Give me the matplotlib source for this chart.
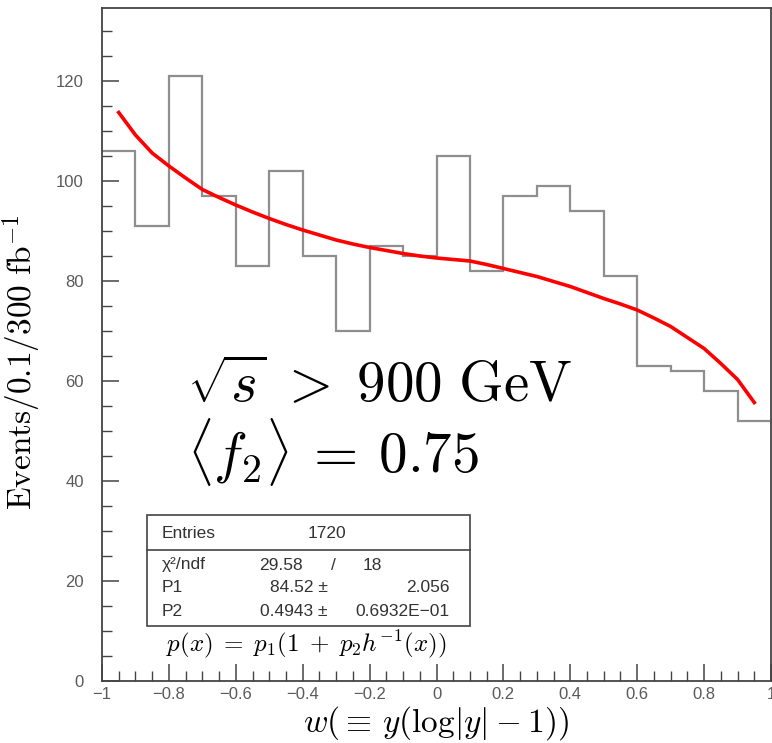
import numpy as np
import matplotlib
matplotlib.use("Agg")
import matplotlib.pyplot as plt
from matplotlib.patches import Rectangle
from matplotlib.lines import Line2D
from matplotlib.ticker import MultipleLocator, FuncFormatter

plt.rcParams['mathtext.fontset'] = 'cm'

# histogram: 20 bins of width 0.1 on [-1, 1]
bin_edges = [-1.0, -0.9, -0.8, -0.7, -0.6, -0.5, -0.4, -0.3, -0.2, -0.1, 0.0,
             0.1, 0.2, 0.3, 0.4, 0.5, 0.6, 0.7, 0.8, 0.9, 1.0]
counts = [106, 91, 121, 97, 83, 102, 85, 70, 87, 85,
          105, 82, 97, 99, 94, 81, 63, 62, 58, 52]

# fitted curve
fit_x = [-0.95, -0.9, -0.85, -0.8, -0.75, -0.7, -0.65, -0.6, -0.55, -0.5,
         -0.45, -0.4, -0.35, -0.3, -0.25, -0.2, -0.15, -0.1, -0.05, 0.0,
         0.05, 0.1, 0.15, 0.2, 0.25, 0.3, 0.35, 0.4, 0.45, 0.5,
         0.55, 0.6, 0.65, 0.7, 0.75, 0.8, 0.85, 0.9, 0.95]
fit_y = [113.7, 109.2, 105.6, 103.0, 100.6, 98.3, 96.7, 95.2, 93.8, 92.5,
         91.3, 90.2, 89.2, 88.2, 87.4, 86.7, 86.1, 85.5, 85.0, 84.6,
         84.3, 84.0, 83.3, 82.5, 81.7, 80.9, 79.9, 78.9, 77.7, 76.5,
         75.4, 74.2, 72.6, 70.9, 68.7, 66.5, 63.5, 60.3, 55.7]

W, H = 772, 743


def fx(px):
    return px / W


def fy(py):
    return 1 - py / H


fig = plt.figure(figsize=(W / 100, H / 100), dpi=100)
ax = fig.add_axes([fx(102), fy(681), (771 - 102) / W, (681 - 8) / H])

ax.stairs(counts, bin_edges, baseline=None, color='#8e8e8e', lw=1.6)
ax.plot(fit_x, fit_y, color='#ff0000', lw=2.6)

ax.set_xlim(-1, 1)
ax.set_ylim(0, 134.6)

ax.xaxis.set_major_locator(MultipleLocator(0.2))
ax.xaxis.set_minor_locator(MultipleLocator(0.05))
ax.yaxis.set_major_locator(MultipleLocator(20))
ax.yaxis.set_minor_locator(MultipleLocator(5))


def fmt(v, _):
    return f"{round(v, 1) + 0:g}".replace('-', '\u2212')


ax.xaxis.set_major_formatter(FuncFormatter(fmt))

for s in ax.spines.values():
    s.set_color('#444444')
    s.set_linewidth(1.3)

ax.tick_params(which='both', direction='in', top=False, right=False,
               color='#444444', labelcolor='#5a5a5a', labelsize=12,
               labelfontfamily='Liberation Sans')
ax.tick_params(which='major', length=12, width=1.1)
ax.tick_params(which='minor', length=7, width=1.0)
ax.tick_params(axis='y', pad=13)
ax.tick_params(axis='x', pad=4)

ax.set_ylabel(r'$\mathrm{Events}/0.1/300\ \mathrm{fb}^{-1}$', fontsize=24)
ax.yaxis.set_label_coords(-0.088, 0.474)
ax.set_xlabel(r'$w(\equiv\, y(\log|y|\:-\:1))$', fontsize=24, labelpad=2)

# big annotation
fig.text(fx(187), fy(402), r'$\sqrt{s}\;>\;900\ \mathrm{GeV}$', fontsize=41,
         ha='left', va='baseline')
fig.text(fx(187), fy(473), r'$\langle f_2\rangle\:=\:0.75$', fontsize=41,
         ha='left', va='baseline')

# stats box
box = Rectangle((fx(147), fy(626)), (470 - 147) / W, (626 - 515) / H,
                transform=fig.transFigure, facecolor='white',
                edgecolor='#444444', lw=1.2, zorder=5)
fig.patches.append(box)
fig.lines.append(Line2D([fx(147), fx(470)], [fy(550), fy(550)],
                        transform=fig.transFigure, color='#444444', lw=1.2,
                        zorder=6))

st = dict(fontsize=12.5, family='Liberation Sans', color='#333333',
          va='center', zorder=7)
fig.text(fx(162), fy(534), 'Entries', ha='left', **st)
fig.text(fx(327), fy(534), '1720', ha='center', **st)
fig.text(fx(162), fy(565), '\u03c7\u00b2/ndf', ha='left', **st)
fig.text(fx(303), fy(565), '29.58', ha='right', **st)
fig.text(fx(333), fy(565), '/', ha='center', **st)
fig.text(fx(363), fy(565), '18', ha='left', **st)
fig.text(fx(162), fy(588), 'P1', ha='left', **st)
fig.text(fx(328), fy(588), '84.52 \u00b1', ha='right', **st)
fig.text(fx(450), fy(588), '2.056', ha='right', **st)
fig.text(fx(162), fy(611), 'P2', ha='left', **st)
fig.text(fx(328), fy(611), '0.4943 \u00b1', ha='right', **st)
fig.text(fx(450), fy(611), '0.6932E\u221201', ha='right', **st)

fig.text(fx(166), fy(651), r'$p(x)\;=\;p_1(1\;+\;p_2h^{-1}(x))$',
         fontsize=18, ha='left', va='baseline')

fig.savefig('out.png', dpi=100)
